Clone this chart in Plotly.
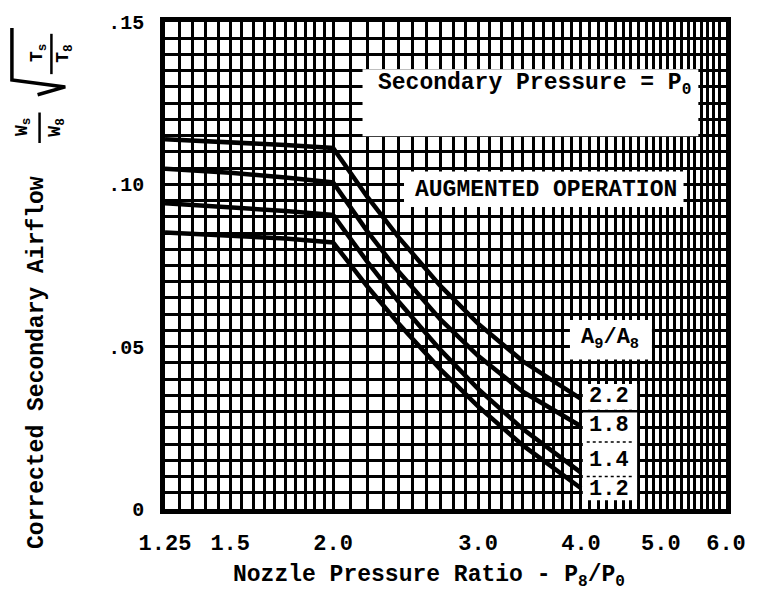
import math
import numpy as np
import plotly.graph_objects as go

# Corrected secondary airflow vs nozzle pressure ratio, one curve per A9/A8
AREA_RATIO = ["2.2", "1.8", "1.4", "1.2"]
NPR = [1.25, 1.5, 1.75, 2.0, 2.2, 2.4, 2.7, 3.0, 3.4, 4.0]
FLOW_22 = [0.1139, 0.1130, 0.1121, 0.1112, 0.0962, 0.0838, 0.0687, 0.0571, 0.0455, 0.0339]
FLOW_18 = [0.1048, 0.1036, 0.1021, 0.1006, 0.0856, 0.0732, 0.0584, 0.0472, 0.0361, 0.0255]
FLOW_14 = [0.0942, 0.0930, 0.0918, 0.0906, 0.0762, 0.0640, 0.0490, 0.0370, 0.0246, 0.0112]
FLOW_12 = [0.0852, 0.0842, 0.0833, 0.0821, 0.0686, 0.0572, 0.0430, 0.0316, 0.0196, 0.0064]
SERIES = [FLOW_22, FLOW_18, FLOW_14, FLOW_12]

X_TICKS = [1.25, 1.5, 2.0, 3.0, 4.0, 5.0, 6.0]
X_LABELS = ["1.25", "1.5", "2.0", "3.0", "4.0", "5.0", "6.0"]
Y_TICKS = [0, 0.05, 0.10, 0.15]
Y_LABELS = ["0", ".05", ".10", ".15"]

# graph-paper rulings
X_GRID = [round(v, 3) for v in np.arange(1.25, 2.0, 0.05)] + \
         [round(v, 3) for v in np.arange(2.0, 6.0001, 0.1)]
Y_GRID = [round(v, 4) for v in np.arange(0, 0.1501, 0.005)]

W, H = 758, 597
L, R, T, B = 165, 733, 14, 509
PW, PH = R - L, B - T
FONT = "Liberation Mono"


def px(x):
    return (x - L) / PW


def py(y):
    return (B - y) / PH


fig = go.Figure()
for vals in SERIES:
    fig.add_trace(go.Scatter(x=NPR, y=vals, mode="lines",
                             line=dict(color="black", width=4.5),
                             showlegend=False, hoverinfo="skip"))

shapes = []
annotations = []


def white_box(x0, y0, x1, y1):
    shapes.append(dict(type="rect", xref="paper", yref="paper",
                       x0=px(x0), x1=px(x1), y0=py(y1), y1=py(y0),
                       fillcolor="white", line=dict(width=0), layer="above"))


def label(text, x, y, size=20, angle=0, xanchor="center"):
    annotations.append(dict(text=text, xref="paper", yref="paper",
                            x=px(x), y=py(y), showarrow=False,
                            xanchor=xanchor, yanchor="middle", textangle=angle,
                            font=dict(family=FONT, size=size, color="black",
                                      weight="bold")))


def seg(pts, width=2, dash=None):
    path = "M " + " L ".join(f"{px(a)},{py(b)}" for a, b in pts)
    shapes.append(dict(type="path", xref="paper", yref="paper", path=path,
                       line=dict(color="black", width=width, dash=dash),
                       layer="above"))


# text panels on the grid
white_box(365, 62, 705, 130)
label("Secondary Pressure = P<sub>0</sub>", 539, 78, size=23)
white_box(407, 166, 690, 202)
label("AUGMENTED OPERATION", 551, 185, size=23)
white_box(575, 317, 658, 357)
label("A<sub>9</sub>/A<sub>8</sub>", 616, 336, size=22)
white_box(588, 382, 643, 408)
white_box(588, 411, 643, 500)
for txt, yc in zip(AREA_RATIO, [395, 424, 460, 489]):
    label(txt, 615, yc, size=22)
seg([(592, 441), (640, 441)], width=1.5, dash="dot")
seg([(592, 476), (640, 476)], width=1.5, dash="dot")

# axis titles
label("Nozzle Pressure Ratio - P<sub>8</sub>/P<sub>0</sub>", 432, 578, size=23)
label("Corrected Secondary Airflow", 36, 360, size=23, angle=-90)

# flow parameter  Ws/W8 * sqrt(Ts/T8), written sideways
label("W<sub>s</sub>", 21, 121, size=18, angle=-90)
label("W<sub>8</sub>", 55, 121, size=18, angle=-90)
seg([(38, 106), (38, 137)], width=2.5)
label("T<sub>s</sub>", 37, 46, size=18, angle=-90)
label("T<sub>8</sub>", 63, 46, size=18, angle=-90)
seg([(50, 26), (50, 67)], width=2.5)
seg([(10, 20), (10, 73), (64, 80), (36, 88)], width=3.5)

x_font = dict(family=FONT, size=22, color="black", weight="bold")
y_font = dict(family=FONT, size=20, color="black", weight="bold")
fig.update_layout(
    width=W, height=H,
    margin=dict(l=L, r=W - R, t=T, b=H - B),
    paper_bgcolor="white", plot_bgcolor="white",
    shapes=shapes, annotations=annotations,
    xaxis=dict(type="log", range=[math.log10(1.25), math.log10(6.0)],
               tickmode="array", tickvals=X_TICKS, ticktext=X_LABELS,
               tickfont=x_font, ticks="", ticklabelstandoff=10,
               showgrid=True, gridcolor="black", gridwidth=3,
               showline=True, linecolor="black", linewidth=4.5, mirror=True,
               zeroline=False,
               minor=dict(tickvals=X_GRID, showgrid=True, gridcolor="black",
                          gridwidth=2.5, ticks="")),
    yaxis=dict(range=[0, 0.15], tickmode="array", tickvals=Y_TICKS,
               ticktext=Y_LABELS, tickfont=y_font, ticks="",
               ticklabelstandoff=12,
               showgrid=True, gridcolor="black", gridwidth=3,
               showline=True, linecolor="black", linewidth=4.5, mirror=True,
               zeroline=False,
               minor=dict(tickvals=Y_GRID, showgrid=True, gridcolor="black",
                          gridwidth=2.5, ticks="")),
)

fig.write_html("out.html")
